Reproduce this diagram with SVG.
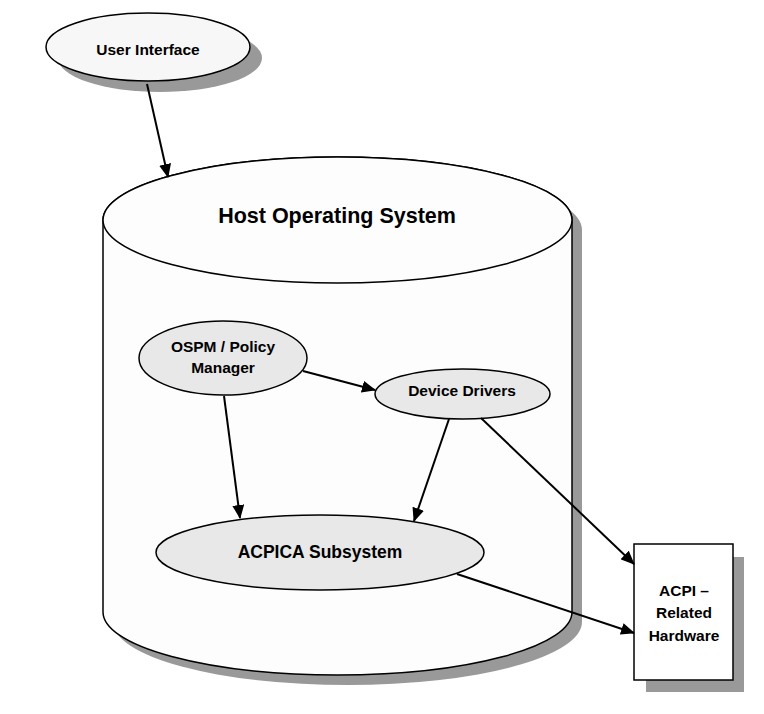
<svg xmlns="http://www.w3.org/2000/svg" width="764" height="714" viewBox="0 0 764 714">
<style>
.lbl{font-family:"Liberation Sans",Arial,sans-serif;font-weight:bold;fill:#000;text-anchor:middle}
.sh{fill:#999;stroke:none}
.node{stroke:#000;stroke-width:1.5}
.conn{stroke:#000;stroke-width:2;fill:none}
</style>
<defs>
<marker id="ah" markerUnits="userSpaceOnUse" markerWidth="14" markerHeight="12" viewBox="0 0 14 12" refX="13" refY="6" orient="auto">
<path d="M0,0 L14,6 L0,12 Z" fill="#000"/>
</marker>
</defs>
<rect width="764" height="714" fill="#fff"/>
<g id="host-os">
<path class="sh" d="M113,230 L113,622 A234.5,63 0 0 0 582,622 L582,230 A234.5,63 0 0 0 113,230 Z"/>
<path class="node" fill="#fdfdfd" d="M103,220 L103,612 A234.5,63 0 0 0 572,612 L572,220 A234.5,63 0 0 0 103,220 Z"/>
<ellipse class="node" fill="#fdfdfd" cx="337.5" cy="220" rx="234.5" ry="63"/>
<text class="lbl" x="337" y="223" font-size="21.5">Host Operating System</text>
</g>
<g id="user-interface">
<ellipse class="sh" cx="160" cy="58" rx="102" ry="34"/>
<ellipse class="node" fill="#f7f7f7" cx="148" cy="47" rx="102" ry="34"/>
<text class="lbl" x="148" y="55" font-size="15.5">User Interface</text>
</g>
<g id="ospm">
<ellipse class="node" fill="#e8e8e8" cx="223" cy="358" rx="84" ry="37"/>
<text class="lbl" x="223" y="352" font-size="15.5">OSPM / Policy</text>
<text class="lbl" x="223" y="373" font-size="15.5">Manager</text>
</g>
<g id="device-drivers">
<ellipse class="node" fill="#e8e8e8" cx="462.5" cy="394" rx="87.5" ry="25"/>
<text class="lbl" x="462" y="396" font-size="15.5">Device Drivers</text>
</g>
<g id="acpica">
<ellipse class="node" fill="#e8e8e8" cx="320" cy="552.5" rx="164" ry="37.5"/>
<text class="lbl" x="320" y="558" font-size="17.5">ACPICA Subsystem</text>
</g>
<g id="acpi-hw">
<rect class="sh" x="646" y="557" width="98" height="135"/>
<rect class="node" fill="#fff" x="634" y="544" width="99" height="136"/>
<text class="lbl" x="684" y="596" font-size="15.5">ACPI –</text>
<text class="lbl" x="684" y="618" font-size="15.5">Related</text>
<text class="lbl" x="684" y="641" font-size="15.5">Hardware</text>
</g>
<g id="connectors">
<line class="conn" x1="147" y1="84" x2="168" y2="177" marker-end="url(#ah)"/>
<line class="conn" x1="303" y1="371" x2="375" y2="390" marker-end="url(#ah)"/>
<line class="conn" x1="224" y1="396" x2="240" y2="518" marker-end="url(#ah)"/>
<line class="conn" x1="449" y1="419" x2="414" y2="521" marker-end="url(#ah)"/>
<line class="conn" x1="481" y1="418" x2="634" y2="564" marker-end="url(#ah)"/>
<line class="conn" x1="457" y1="574" x2="634" y2="633" marker-end="url(#ah)"/>
</g>
</svg>
